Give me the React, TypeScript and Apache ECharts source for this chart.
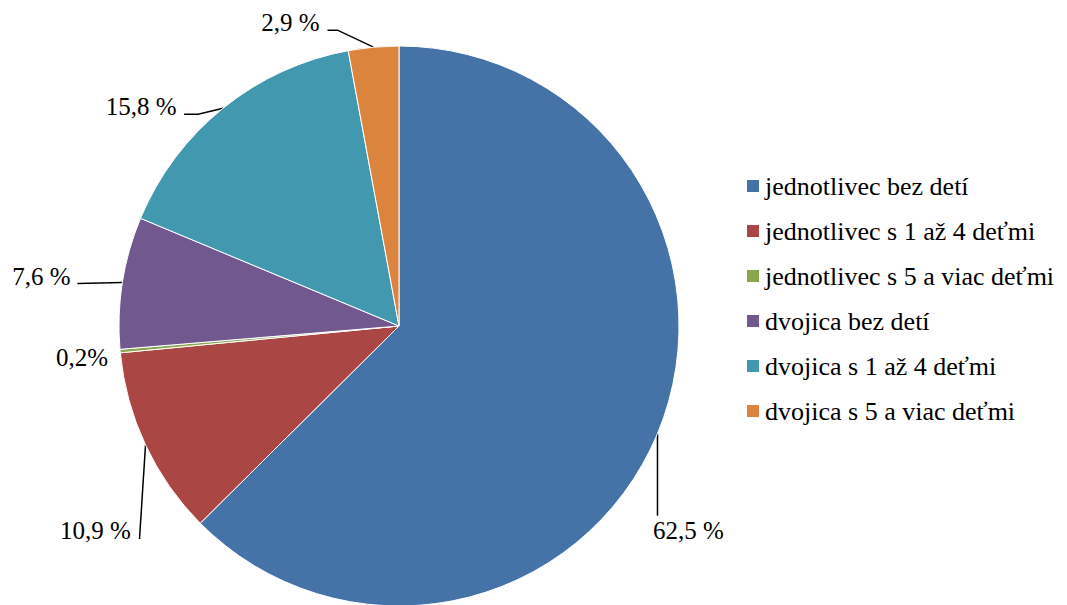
import React, { useEffect, useRef } from "react";
import * as echarts from "echarts";

const categories = [
  "jednotlivec bez detí",
  "jednotlivec s 1 až 4 deťmi",
  "jednotlivec s 5 a viac deťmi",
  "dvojica bez detí",
  "dvojica s 1 až 4 deťmi",
  "dvojica s 5 a viac deťmi",
];
const values = [62.5, 10.9, 0.2, 7.6, 15.8, 2.9];
const valueLabels = ["62,5 %", "10,9 %", "0,2%", "7,6 %", "15,8 %", "2,9 %"];
const colors = ["#4572A7", "#AA4643", "#89A54E", "#71588F", "#4198AF", "#DB843D"];

// label text offsets from the slice's outer anchor point, and leader-line bend offsets
const labelOffsets: number[][] = [
  [31, 97],
  [-50, 86],
  [-38, 6],
  [-81, -6],
  [-82, -2],
  [-83, -25],
];
const lineOffsets: number[][][] = [
  [[0, 82]],
  [[-6, 94]],
  [],
  [[-45, 1]],
  [[-25, 6], [-39, 6]],
  [[-36, -17], [-46, -17]],
];

export default function App() {
  const ref = useRef<HTMLDivElement>(null);
  useEffect(() => {
    if (!ref.current) return;
    const chart = echarts.init(ref.current, null, { renderer: "svg" });
    const font = "Liberation Serif";
    const cx = 399;
    const cy = 326;
    const r = 280;
    chart.setOption({
      animation: false,
      color: colors,
      textStyle: { fontFamily: font },
      legend: {
        orient: "vertical",
        left: 740,
        top: 168,
        icon: "rect",
        itemWidth: 14,
        itemHeight: 14,
        itemGap: 19,
        textStyle: { fontFamily: font, fontSize: 26, color: "#000", lineHeight: 26 },
        data: categories,
      },
      series: [
        {
          type: "pie",
          center: [cx, cy],
          radius: r,
          startAngle: 90,
          clockwise: true,
          itemStyle: { borderColor: "#fff", borderWidth: 1 },
          label: {
            show: true,
            position: "outside",
            fontFamily: font,
            fontSize: 25,
            color: "#000",
            formatter: (p: any) => valueLabels[p.dataIndex],
          },
          labelLine: {
            show: true,
            length: 20,
            length2: 10,
            lineStyle: { color: "#000", width: 1.5 },
          },
          labelLayout: (p: any) => {
            const i = p.dataIndex;
            let ax: number, ay: number;
            if (p.labelLinePoints && p.labelLinePoints[0]) {
              ax = p.labelLinePoints[0][0];
              ay = p.labelLinePoints[0][1];
            } else {
              const before = values.slice(0, i).reduce((a, b) => a + b, 0);
              const total = values.reduce((a, b) => a + b, 0);
              const ang = ((before + values[i] / 2) / total) * Math.PI * 2;
              ax = cx + r * Math.sin(ang);
              ay = cy - r * Math.cos(ang);
            }
            const pts = [[ax, ay]].concat(lineOffsets[i].map((o) => [ax + o[0], ay + o[1]]));
            return {
              x: ax + labelOffsets[i][0],
              y: ay + labelOffsets[i][1],
              align: "center",
              verticalAlign: "middle",
              labelLinePoints: pts.length > 1 ? pts : [[ax, ay], [ax, ay]],
            };
          },
          data: categories.map((name, i) => ({
            name,
            value: values[i],
            labelLine: { show: lineOffsets[i].length > 0 },
          })),
        },
      ],
    });
    return () => chart.dispose();
  }, []);
  return (
    <div
      ref={ref}
      style={{ position: "fixed", left: 0, top: 0, width: 1067, height: 605, background: "#fff" }}
    />
  );
}
